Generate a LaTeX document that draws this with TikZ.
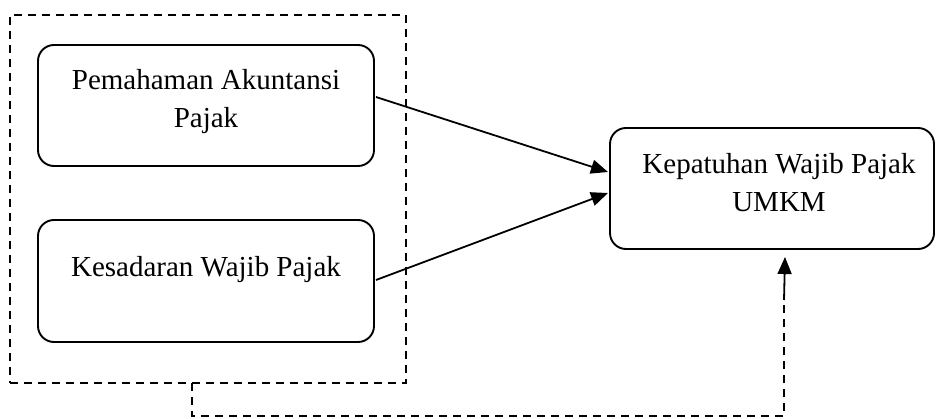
\documentclass[tikz,border=0pt]{standalone}
\usepackage{fontspec}
\setmainfont{Liberation Serif}
\usetikzlibrary{arrows.meta}
\begin{document}
\begin{tikzpicture}[x=1pt,y=-1pt,
  varbox/.style={draw,line width=1.9pt,rounded corners=16pt,inner sep=0pt,outer sep=0pt},
  grpbox/.style={draw,line width=1.6pt,dash pattern=on 8pt off 6pt,inner sep=0pt,outer sep=0pt},
  lbl/.style={font=\fontsize{29}{38}\selectfont,align=center,inner sep=0pt,anchor=base},
  arr/.style={line width=1.8pt,-{Triangle[length=17pt,width=14pt]}},
  dsh/.style={line width=1.6pt,dash pattern=on 8pt off 6pt}]
\useasboundingbox (0,0) rectangle (936,419);
\node[grpbox,minimum width=396pt,minimum height=368pt] (grp) at (208,199) {};
\node[varbox,minimum width=336pt,minimum height=121pt] (b1) at (206,105.5) {};
\node[varbox,minimum width=336pt,minimum height=122pt] (b2) at (206,281) {};
\node[varbox,minimum width=324pt,minimum height=121pt] (b3) at (772,188.5) {};
\node[lbl] (t1) at (206,128) {Pemahaman Akuntansi\\Pajak};
\node[lbl] (t2) at (206,277) {Kesadaran Wajib Pajak};
\node[lbl] (t3) at (779,212) {Kepatuhan Wajib Pajak\\UMKM};
\coordinate (a1s) at (376,97);
\coordinate (a1e) at (608,172);
\coordinate (a2s) at (376,280);
\coordinate (a2e) at (608,193);
\draw[arr] (a1s) -- (a1e);
\draw[arr] (a2s) -- (a2e);
\coordinate (g1) at (192,383);
\coordinate (g2) at (192,416);
\coordinate (g3) at (784,416);
\coordinate (g4) at (784,300);
\coordinate (g5) at (785,257);
\draw[dsh] (g1) -- (g2) -- (g3) -- (g4);
\draw[arr] (g4) -- (g5);
\end{tikzpicture}
\end{document}
